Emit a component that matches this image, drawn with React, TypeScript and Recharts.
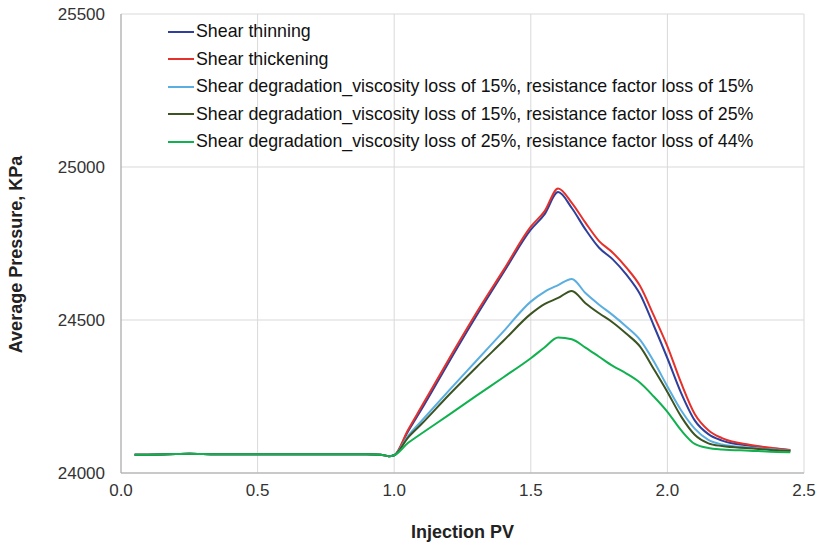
import { LineChart, Line, XAxis, YAxis, CartesianGrid, Legend } from 'recharts'

// injection pore volumes sampled along the curves
const pv = [
  0.05, 0.1, 0.2, 0.25, 0.3, 0.4, 0.5, 0.6, 0.7, 0.8, 0.9, 0.95, 0.98, 1.0,
  1.05, 1.1, 1.2, 1.3, 1.4, 1.5, 1.55, 1.6, 1.65, 1.7, 1.75, 1.8, 1.85, 1.9,
  1.95, 2.0, 2.05, 2.1, 2.15, 2.2, 2.3, 2.4, 2.45,
]

// pre-polymer waterflood plateau, shared by every case
const plateau = [24060, 24060, 24062, 24063, 24062, 24061, 24061, 24061, 24061, 24061, 24061, 24060, 24055, 24058]

const shearThinning = plateau.concat([
  24135, 24208, 24362, 24512, 24655, 24795, 24845, 24918, 24866, 24796, 24736, 24698,
  24648, 24584, 24482, 24375, 24262, 24172, 24127, 24106, 24089, 24079, 24074,
])
const shearThickening = plateau.concat([
  24140, 24217, 24372, 24522, 24663, 24805, 24855, 24930, 24883, 24818, 24758, 24720,
  24671, 24611, 24515, 24414, 24295, 24193, 24140, 24114, 24092, 24080, 24075,
])
const degr15_15 = plateau.concat([
  24120, 24170, 24269, 24366, 24463, 24560, 24592, 24614, 24634, 24588, 24550, 24516,
  24478, 24435, 24365, 24283, 24205, 24145, 24108, 24093, 24083, 24076, 24073,
])
const degr15_25 = plateau.concat([
  24115, 24160, 24255, 24345, 24432, 24520, 24552, 24572, 24595, 24555, 24522, 24492,
  24455, 24413, 24340, 24265, 24185, 24125, 24097, 24088, 24081, 24074, 24072,
])
const degr25_44 = plateau.concat([
  24098, 24129, 24190, 24252, 24313, 24375, 24410, 24443, 24437, 24410, 24380, 24350,
  24325, 24295, 24250, 24200, 24140, 24095, 24082, 24077, 24073, 24069, 24068,
])

const seriesNames = [
  'Shear thinning',
  'Shear thickening',
  'Shear degradation_viscosity loss of 15%, resistance factor loss of 15%',
  'Shear degradation_viscosity loss of 15%, resistance factor loss of 25%',
  'Shear degradation_viscosity loss of 25%, resistance factor loss of 44%',
]
const seriesColors = ['#2f3f9c', '#e5312b', '#5aaee0', '#3b5421', '#12b150']
const seriesValues = [shearThinning, shearThickening, degr15_15, degr15_25, degr25_44]

const xTicks = [0, 0.5, 1.0, 1.5, 2.0, 2.5]
const yTicks = [24000, 24500, 25000, 25500]

const data = pv.map((x, i) => {
  const row: Record<string, number> = { pv: x }
  seriesValues.forEach((vals, k) => {
    row['s' + k] = vals[i]
  })
  return row
})

const font = '"Liberation Sans", Arial, sans-serif'

function LegendBox() {
  return (
    <div style={{ fontFamily: font, fontSize: 17.8, color: '#111' }}>
      {seriesNames.map((name, k) => (
        <div key={name} style={{ display: 'flex', alignItems: 'center', height: 27.5 }}>
          <span style={{ display: 'inline-block', width: 26, height: 2, background: seriesColors[k], marginRight: 2 }} />
          <span style={{ whiteSpace: 'nowrap' }}>{name}</span>
        </div>
      ))}
    </div>
  )
}

export default function App() {
  return (
    <div style={{ position: 'absolute', left: 0, top: 0, width: 818, height: 542, background: '#fff' }}>
      <LineChart width={818} height={542} data={data} margin={{ top: 14, right: 14, left: 0, bottom: 0 }}>
        <CartesianGrid stroke="#d9d9d9" strokeWidth={1} />
        <XAxis
          dataKey="pv"
          type="number"
          domain={[0, 2.5]}
          ticks={xTicks}
          tickFormatter={(v: number) => v.toFixed(1)}
          height={69}
          tickSize={0}
          tickMargin={11}
          stroke="#a6a6a6"
          tick={{ fontSize: 17, fill: '#333', fontFamily: font }}
          label={{
            value: 'Injection PV',
            position: 'insideBottom',
            offset: 4,
            style: { fontSize: 18, fontWeight: 'bold', fill: '#222', fontFamily: font },
          }}
        />
        <YAxis
          type="number"
          domain={[24000, 25500]}
          ticks={yTicks}
          width={121}
          tickSize={0}
          tickMargin={16}
          stroke="#a6a6a6"
          tick={{ fontSize: 17, fill: '#333', fontFamily: font }}
          label={({ viewBox }: any) => {
            const cx = 16
            const cy = viewBox.y + viewBox.height / 2 + 11
            return (
              <text
                x={cx}
                y={cy}
                transform={`rotate(-90 ${cx} ${cy})`}
                textAnchor="middle"
                dominantBaseline="central"
                style={{ fontSize: 18, fontWeight: 'bold', fill: '#222', fontFamily: font }}
              >
                Average Pressure, KPa
              </text>
            )
          }}
        />
        <Legend
          layout="vertical"
          align="center"
          verticalAlign="middle"
          wrapperStyle={{ left: 168, top: 18, width: 640 }}
          content={() => <LegendBox />}
        />
        {seriesNames.map((name, k) => (
          <Line
            key={name}
            name={name}
            dataKey={'s' + k}
            type="monotone"
            stroke={seriesColors[k]}
            strokeWidth={2}
            dot={false}
            activeDot={false}
            isAnimationActive={false}
          />
        ))}
      </LineChart>
    </div>
  )
}
